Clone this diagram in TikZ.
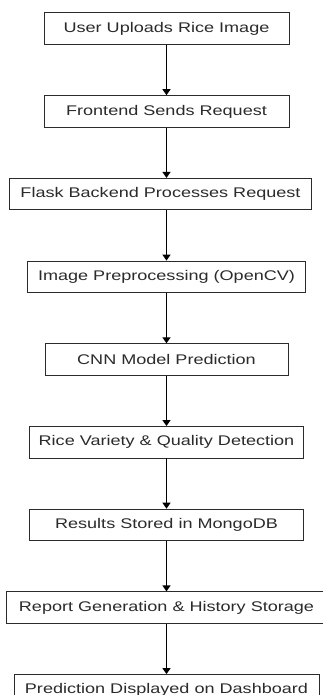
\documentclass[tikz,border=0pt]{standalone}
\usepackage{fontspec}
\setmainfont{Liberation Sans}[FakeStretch=1.29]
\usetikzlibrary{arrows.meta,positioning}
\definecolor{stepgray}{HTML}{2B2B2B}

\begin{document}
\begin{tikzpicture}[x=1pt,y=-1pt,
      stage/.style={draw=stepgray,line width=0.9pt,fill=white,text=stepgray,
        minimum height=31.5pt,inner sep=0pt,font=\fontsize{14}{16}\selectfont},
      arr/.style={-{Triangle[width=8pt,length=6pt]},line width=1.3pt,draw=black},
      node distance=50.3pt]
    \useasboundingbox (0,0) rectangle (322,695);
    \node[stage,minimum width=245pt,anchor=north] (upload) at (166.5,12.5) {User Uploads Rice Image};
    \node[stage,minimum width=245pt,below=of upload] (frontend) {Frontend Sends Request};
    \node[stage,minimum width=302pt,below=of frontend,xshift=-6pt] (flask) {Flask Backend Processes Request};
    \node[stage,minimum width=278pt,below=of flask,xshift=6pt] (preproc) {Image Preprocessing (OpenCV)};
    \node[stage,minimum width=243pt,below=of preproc] (cnn) {CNN Model Prediction};
    \node[stage,minimum width=274pt,below=of cnn] (detect) {Rice Variety \& Quality Detection};
    \node[stage,minimum width=274pt,below=of detect] (mongo) {Results Stored in MongoDB};
    \node[stage,minimum width=320pt,below=of mongo] (report) {Report Generation \& History Storage};
    \node[stage,minimum width=305pt,below=of report] (dashboard) {Prediction Displayed on Dashboard};
    % one vertical spine through all steps
    \foreach \a/\b in {upload/frontend,frontend/flask,flask/preproc,preproc/cnn,
        cnn/detect,detect/mongo,mongo/report,report/dashboard}
      \draw[arr] (\a.south -| upload) -- (\b.north -| upload);
  \end{tikzpicture}
\end{document}
